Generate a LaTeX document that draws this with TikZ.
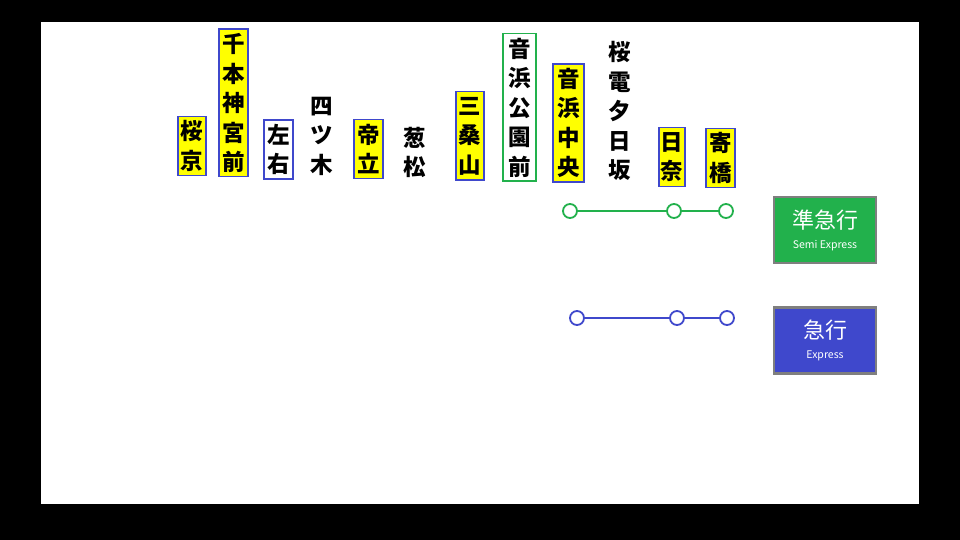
\documentclass[tikz,border=0pt]{standalone}
\usepackage{fontspec}
\newfontfamily\jpfont{Noto Sans CJK JP}
\usetikzlibrary{positioning}

\definecolor{expblue}{RGB}{63,72,204}
\definecolor{semigreen}{RGB}{34,177,76}
\definecolor{signyellow}{RGB}{255,255,0}
\definecolor{framegray}{RGB}{127,127,127}

\tikzset{
  station/.style={inner sep=0pt, align=center, font=\jpfont\bfseries\fontsize{22.5}{29.5}\selectfont},
  stopbox/.style={station, draw=expblue, line width=1.5pt, fill=signyellow},
  passbox/.style={station, draw=expblue, line width=1.5pt, fill=white},
  parkbox/.style={station, draw=semigreen, line width=1.5pt, fill=white},
  plain/.style={station},
  stopmark/.style={circle, draw=#1, line width=1.8pt, fill=white, minimum size=14pt, inner sep=0pt},
  legend/.style={draw=framegray, line width=2.5pt, fill=#1, minimum width=102pt, minimum height=66pt, text=white, align=center, font=\jpfont}
}

\begin{document}
\begin{tikzpicture}[x=1pt, y=-1pt]
                % Define the frame
                \useasboundingbox (0,0) rectangle (960,540);
                \fill[black] (0,0) rectangle (960,540);
                \fill[white] (41,22) rectangle (919,504);

                % Stations
                \foreach \name/\x/\y/\n/\w/\sty/\txt in {
                    sakurakyo/192/146/2/28/stopbox/{桜\\京},
                    senbon/233.5/103/5/29/stopbox/{千\\本\\神\\宮\\前},
                    sayu/278.5/149.5/2/29/passbox/{左\\右},
                    yotsugi/322/136/3/29/plain/{四\\ツ\\木},
                    teiritsu/368.5/149/2/29/stopbox/{帝\\立},
                    negimatsu/415/152.5/2/29/plain/{葱\\松},
                    misoyama/470/136/3/28/stopbox/{三\\桑\\山},
                    otohamakoen/519.5/107.5/5/33/parkbox/{音\\浜\\公\\園\\前},
                    otohamachuo/568.5/123/4/31/stopbox/{音\\浜\\中\\央},
                    sakuraden/620/111/5/29/plain/{桜\\電\\夕\\日\\坂},
                    hina/672/157/2/26/stopbox/{日\\奈},
                    yoribashi/720.5/158/2/29/stopbox/{寄\\橋}}
                    \node[\sty, minimum width=\w pt, minimum height=\n*29.5pt] (\name) at (\x,\y) {\txt};

                % Semi express stops
                \node[stopmark=semigreen] (g1) at (570,211) {};
                \node[stopmark=semigreen] (g2) at (674,211) {};
                \node[stopmark=semigreen] (g3) at (726,211) {};
                \draw[semigreen, line width=1.8pt] (g1) -- (g2) -- (g3);

                % Express stops
                \node[stopmark=expblue] (b1) at (577,318) {};
                \node[stopmark=expblue] (b2) at (677,318) {};
                \node[stopmark=expblue] (b3) at (727,318) {};
                \draw[expblue, line width=1.8pt] (b1) -- (b2) -- (b3);

                % Legend
                \node[legend=semigreen] (semi) at (825,230) {\fontsize{22}{24}\selectfont 準急行\\[8pt]\fontsize{10.5}{12}\selectfont Semi Express};
                \node[legend=expblue] (express) at (825,340.5) {\fontsize{22}{24}\selectfont 急行\\[8pt]\fontsize{10.5}{12}\selectfont Express};
            \end{tikzpicture}
\end{document}
